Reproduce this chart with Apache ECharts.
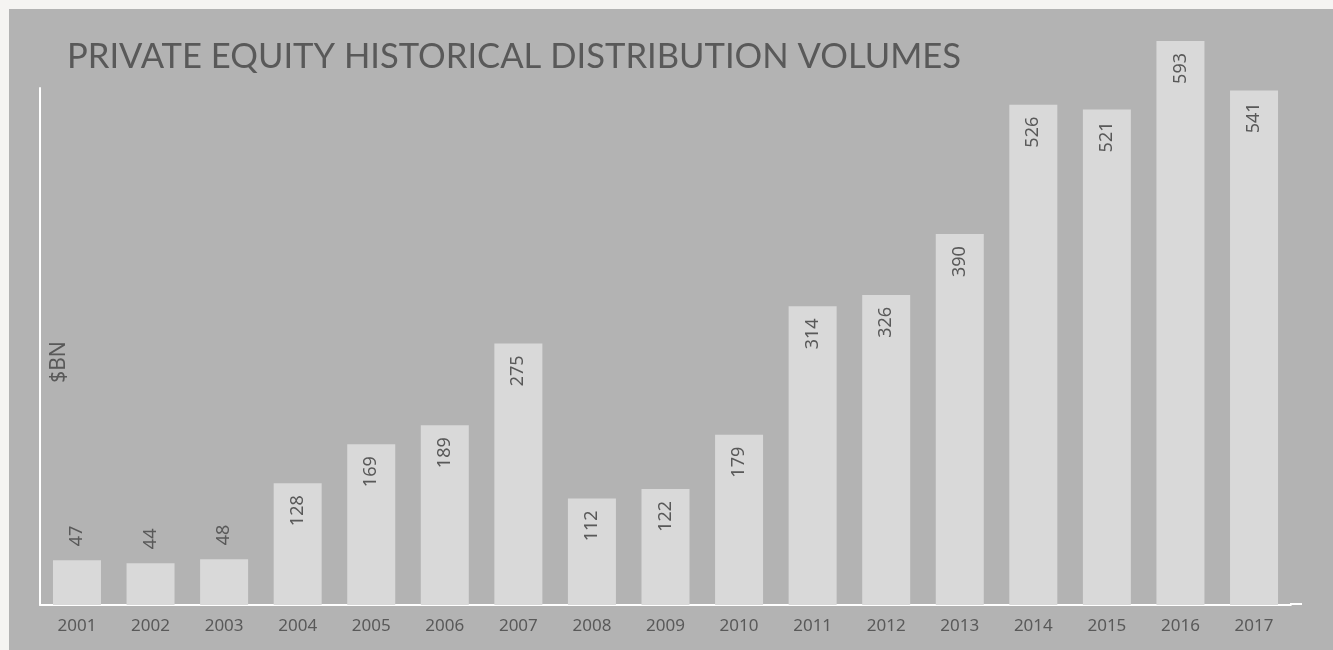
<!DOCTYPE html>
<html>
<head>
<meta charset="utf-8">
<script src="https://cdn.jsdelivr.net/npm/echarts@6/dist/echarts.min.js"></script>
<style>
html,body{margin:0;padding:0;background:#f5f4f2;}
#chart{width:1333px;height:650px;}
</style>
</head>
<body>
<div id="chart"></div>
<script>
const titleText = 'PRIVATE EQUITY HISTORICAL DISTRIBUTION VOLUMES';
const unitLabel = '$BN';
const years = ['2001','2002','2003','2004','2005','2006','2007','2008','2009','2010','2011','2012','2013','2014','2015','2016','2017'];
const volumes = [47,44,48,128,169,189,275,112,122,179,314,326,390,526,521,593,541];

const FONT = 'Lato, "Noto Sans", sans-serif';
const NUMFONT = '"Noto Sans", Lato, sans-serif';
const TXT = '#595959';

const chart = echarts.init(document.getElementById('chart'), null, {renderer:'canvas'});
chart.setOption({
  backgroundColor: '#f5f4f2',
  animation: false,
  title: {
    text: titleText,
    left: 62, top: 34,
    textStyle: {fontFamily: FONT, fontSize: 34.6, fontWeight: 'normal', color: TXT}
  },
  graphic: [
    {type:'rect', z:-10, shape:{x:9, y:9, width:1330, height:650}, style:{fill:'#b3b3b3'}},
    {type:'line', z:10, shape:{x1:1290, y1:604, x2:1302, y2:604}, style:{stroke:'#ffffff', lineWidth:2}},
    {type:'text', z:10, x:49, y:362, rotation:Math.PI/2,
     style:{text:unitLabel, fontFamily:NUMFONT, fontSize:21, fill:TXT, align:'center', verticalAlign:'top'}}
  ],
  grid: {left: 40.2, right: 42.2, top: 88, bottom: 45, containLabel: false},
  xAxis: {
    type: 'category',
    data: years,
    axisLine: {show: true, lineStyle: {color: '#ffffff', width: 2}},
    axisTick: {show: false},
    axisLabel: {color: TXT, fontFamily: NUMFONT, fontSize: 17, margin: 13}
  },
  yAxis: {
    type: 'value',
    min: 0, max: 543.6,
    axisLine: {show: true, lineStyle: {color: '#ffffff', width: 2}},
    axisTick: {show: false},
    axisLabel: {show: false},
    splitLine: {show: false}
  },
  series: [{
    type: 'bar',
    clip: false,
    barWidth: 48,
    itemStyle: {color: '#d9d9d9'},
    data: volumes.map(v => {
      const small = v < 60;
      return {
        value: v,
        label: small
          ? {position: 'top', distance: 14, align: 'left'}
          : {position: 'insideTop', distance: 12, align: 'right'}
      };
    }),
    label: {
      show: true,
      rotate: 90,
      verticalAlign: 'middle',
      color: TXT,
      fontFamily: NUMFONT,
      fontSize: 18
    }
  }]
});
</script>
</body>
</html>
